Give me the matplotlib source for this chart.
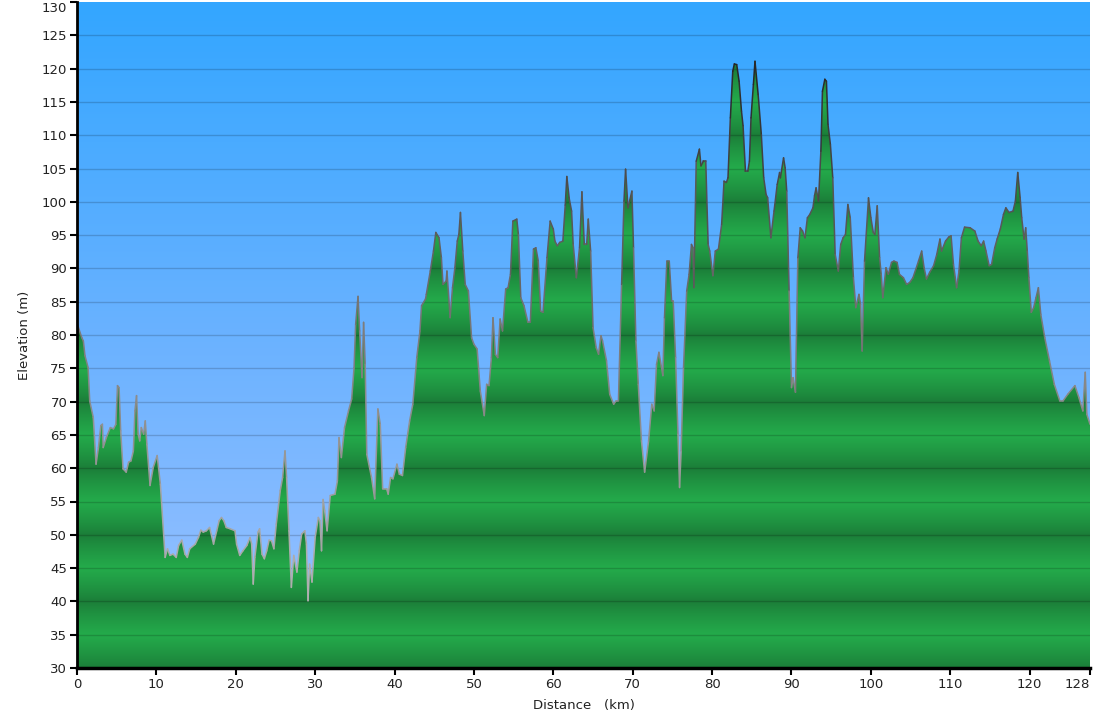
import numpy as np
import matplotlib
matplotlib.use('Agg')
import matplotlib.pyplot as plt
from matplotlib.collections import LineCollection
from matplotlib.colors import LinearSegmentedColormap, to_rgb
from matplotlib.patches import Polygon

distance_km = [
    0.0, 0.05, 0.6, 0.8, 1.0, 1.4, 1.6, 2.05, 2.4, 2.7, 3.0, 3.2, 3.3, 3.7, 4.2, 4.6, 4.9,
    5.1, 5.3, 5.5, 5.8, 6.2, 6.5, 6.8, 7.1, 7.3, 7.5, 7.7, 7.9, 8.1, 8.4, 8.6, 8.8,
    9.2, 9.6, 10.1, 10.5, 11.1, 11.4, 11.7, 12.1, 12.5, 12.8, 13.2, 13.6, 13.9, 14.2,
    14.9, 15.3, 15.6, 15.9, 16.3, 16.7, 17.2, 17.6, 17.9, 18.2, 18.5, 18.8, 19.3, 19.9,
    20.1, 20.5, 20.9, 21.4, 21.8, 22.0, 22.2, 22.4, 22.8, 23.0, 23.3, 23.6, 23.9, 24.2,
    24.5, 24.8, 25.1, 25.6, 25.9, 26.2, 26.4, 26.7, 27.0, 27.3, 27.7, 28.0, 28.3, 28.7,
    28.9, 29.1, 29.3, 29.6, 30.0, 30.4, 30.6, 30.8, 31.0, 31.2, 31.5, 31.9, 32.5, 32.8,
    33.0, 33.3, 33.7, 34.2, 34.6, 34.9, 35.1, 35.4, 35.6, 35.9, 36.1, 36.3, 36.5, 37.1,
    37.5, 37.9, 38.2, 38.5, 39.0, 39.2, 39.5, 39.8, 40.3, 40.6, 41.0, 41.4, 41.9, 42.3,
    42.8, 43.2, 43.4, 43.9, 44.0, 44.5, 44.9, 45.2, 45.6, 45.9, 46.1, 46.5, 46.6, 47.0,
    47.3, 47.6, 47.9, 48.1, 48.3, 48.6, 48.9, 49.3, 49.7, 50.0, 50.4, 50.8, 51.3, 51.6,
    51.9, 52.2, 52.4, 52.7, 53.0, 53.3, 53.6, 54.0, 54.3, 54.6, 54.9, 55.4, 55.6, 55.9,
    56.3, 56.8, 57.1, 57.5, 57.8, 58.1, 58.4, 58.7, 59.2, 59.6, 60.0, 60.2, 60.5, 60.8,
    61.2, 61.5, 61.7, 62.0, 62.3, 62.5, 62.9, 63.3, 63.6, 63.9, 64.2, 64.4, 64.7, 65.0,
    65.4, 65.7, 66.0, 66.2, 66.7, 67.1, 67.6, 67.9, 68.2, 68.6, 68.9, 69.1, 69.4, 69.6,
    69.9, 70.1, 70.4, 70.7, 71.1, 71.5, 72.0, 72.4, 72.7, 73.0, 73.3, 73.8, 74.0, 74.3,
    74.6, 74.9, 75.1, 75.4, 75.7, 75.9, 76.1, 76.4, 76.8, 77.1, 77.4, 77.6, 77.7, 78.0,
    78.4, 78.6, 78.9, 79.2, 79.5, 79.7, 80.1, 80.4, 80.8, 81.2, 81.5, 81.8, 82.0, 82.3,
    82.6, 82.8, 83.1, 83.4, 83.7, 83.9, 84.2, 84.5, 84.7, 84.9, 85.2, 85.4, 85.8, 86.2,
    86.5, 86.8, 87.0, 87.4, 87.8, 88.2, 88.5, 88.6, 89.0, 89.2, 89.4, 89.7, 90.0, 90.2,
    90.5, 90.8, 91.1, 91.4, 91.7, 92.0, 92.3, 92.7, 92.9, 93.1, 93.4, 93.7, 93.9, 94.2,
    94.4, 94.6, 94.9, 95.2, 95.5, 95.9, 96.2, 96.5, 96.8, 97.1, 97.4, 97.8, 98.1, 98.5,
    98.7, 98.9, 99.2, 99.7, 100.0, 100.3, 100.5, 100.8, 101.1, 101.3, 101.5, 101.9,
    102.2, 102.6, 102.9, 103.3, 103.6, 104.1, 104.5, 104.9, 105.3, 106.0, 106.4, 106.7,
    107.0, 107.4, 107.9, 108.3, 108.7, 108.9, 109.4, 109.8, 110.1, 110.4, 110.8, 111.1,
    111.4, 111.8, 112.5, 113.1, 113.5, 113.9, 114.2, 114.5, 114.9, 115.2, 115.6, 115.9,
    116.3, 116.7, 117.0, 117.4, 117.9, 118.2, 118.5, 118.8, 119.0, 119.3, 119.5, 119.7,
    119.9, 120.2, 120.5, 120.8, 121.1, 121.4, 121.9, 122.5, 123.1, 123.8, 124.2, 124.8,
    125.7, 126.2, 126.7, 127.0, 127.2, 127.6,
]
elevation_m = [
    81.9, 81.6, 79.6, 79.1, 76.9, 75.1, 70.1, 67.6, 60.6, 63.1, 66.4, 66.6, 63.1, 64.6, 66.1, 65.9, 66.6,
    72.4, 72.1, 65.6, 59.9, 59.4, 60.9, 61.1, 62.6, 68.6, 70.9, 65.1, 64.1, 66.1, 65.1, 67.1, 63.6,
    57.4, 60.1, 61.9, 57.6, 46.6, 47.9, 46.9, 47.1, 46.6, 48.4, 49.2, 47.1, 46.6, 47.9,
    48.6, 49.6, 50.7, 50.4, 50.6, 51.1, 48.6, 50.6, 52.1, 52.6, 52.1, 51.1, 50.9, 50.6,
    48.6, 46.9, 47.6, 48.4, 49.6, 48.6, 42.6, 46.6, 50.4, 50.9, 47.1, 46.4, 47.6, 49.2,
    49.1, 47.9, 51.6, 56.6, 58.6, 62.6, 58.6, 50.6, 42.1, 46.9, 44.4, 47.6, 50.1, 50.6,
    48.6, 40.1, 45.6, 42.9, 49.6, 52.6, 52.1, 47.6, 55.3, 53.6, 50.6, 55.9, 56.1, 58.1,
    64.6, 61.6, 66.1, 68.6, 70.4, 75.1, 81.6, 85.8, 80.6, 73.6, 81.9, 75.6, 62.1, 58.6,
    55.4, 68.9, 66.6, 56.9, 56.9, 56.1, 58.6, 58.4, 60.6, 59.1, 58.9, 63.1, 67.1, 69.6,
    76.6, 80.6, 84.4, 85.4, 86.1, 89.6, 92.6, 95.4, 94.6, 91.6, 87.6, 88.1, 89.6, 82.6,
    87.1, 90.1, 94.1, 95.1, 98.4, 92.6, 87.6, 86.6, 79.6, 78.6, 77.9, 71.6, 67.9, 72.6,
    72.4, 76.6, 82.6, 77.1, 76.6, 82.4, 80.6, 86.9, 87.1, 89.1, 97.1, 97.4, 95.1, 85.6,
    84.4, 81.9, 81.9, 92.9, 93.1, 91.1, 83.6, 83.4, 91.6, 97.1, 95.9, 94.1, 93.4, 93.9,
    94.1, 99.5, 103.8, 100.5, 98.6, 93.6, 88.6, 93.1, 101.5, 93.6, 93.6, 97.4, 92.6, 81.1,
    78.1, 77.1, 79.9, 79.1, 76.1, 71.1, 69.6, 70.1, 70.1, 87.6, 100.1, 104.9, 99.1, 100.1,
    101.6, 93.1, 79.1, 72.6, 64.1, 59.4, 64.1, 69.6, 68.6, 75.6, 77.4, 73.9, 82.6, 91.1,
    91.1, 85.1, 85.1, 76.6, 65.1, 57.1, 62.6, 75.1, 86.6, 89.1, 93.6, 93.1, 87.1, 106.1,
    107.9, 105.4, 106.1, 106.1, 93.6, 92.6, 88.9, 92.6, 92.9, 96.6, 103.1, 102.9, 103.6, 112.6,
    119.6, 120.7, 120.6, 118.1, 113.6, 111.4, 104.6, 104.6, 106.1, 112.6, 117.6, 121.1, 116.1, 110.1,
    103.6, 101.1, 100.6, 94.6, 98.6, 102.6, 104.4, 103.6, 106.6, 105.1, 101.6, 86.6, 72.1, 73.6,
    71.4, 91.6, 96.1, 95.6, 94.6, 97.6, 98.1, 99.1, 100.9, 102.1, 100.1, 107.6, 116.6, 118.4,
    118.1, 111.6, 108.6, 103.6, 92.1, 89.6, 93.6, 94.6, 95.1, 99.6, 97.6, 88.6, 84.1, 86.1,
    84.6, 77.6, 91.1, 100.6, 97.6, 95.4, 95.1, 99.4, 91.6, 89.1, 85.6, 90.1,
    89.1, 90.9, 91.1, 90.9, 89.1, 88.6, 87.6, 87.9, 88.6, 91.1, 92.6, 90.1,
    88.4, 89.4, 90.4, 92.1, 94.4, 92.6, 94.1, 94.7, 94.9, 90.6, 87.1, 89.6,
    94.6, 96.2, 96.1, 95.6, 94.1, 93.4, 94.1, 92.6, 90.4, 90.6, 93.1, 94.4,
    95.9, 98.1, 99.1, 98.4, 98.6, 100.1, 104.4, 100.6, 97.6, 94.4, 96.1, 92.6,
    88.6, 83.4, 84.1, 85.6, 87.1, 83.1, 79.6, 76.1, 72.6, 70.1, 70.1, 71.1,
    72.4, 70.6, 68.6, 74.4, 68.1, 66.6,
]

x_max = 127.6
y_ticks = list(range(30, 131, 5))
x_ticks = [0, 10, 20, 30, 40, 50, 60, 70, 80, 90, 100, 110, 120, x_max]
x_tick_labels = ['0', '10', '20', '30', '40', '50', '60', '70', '80', '90', '100', '110', '120', '128']

fig = plt.figure(figsize=(10.94, 7.22), dpi=100)
ax = fig.add_axes([77 / 1094, 54 / 722, 1013 / 1094, 666 / 722])
ax.set_xlim(0, x_max)
ax.set_ylim(30, 130)

# sky gradient
sky = LinearSegmentedColormap.from_list('sky', ['#9cc2ff', '#6ab2ff', '#33a6ff'])
grad = np.linspace(0, 1, 256).reshape(-1, 1)
ax.imshow(grad, cmap=sky, origin='lower', extent=[0, x_max, 30, 130],
          aspect='auto', zorder=0, interpolation='bilinear')

# banded green fill (dark at multiples of 10, light at odd fives)
yy = np.linspace(30, 130, 4000)
phase = (yy % 10) / 10.0
b = 1 - np.abs(2 * phase - 1)
b = b ** 0.8
dark = np.array(to_rgb('#1b7c38'))
light = np.array(to_rgb('#24ab4b'))
cols = dark[None, :] * (1 - b[:, None]) + light[None, :] * b[:, None]
img = ax.imshow(cols[:, None, :], origin='lower', extent=[0, x_max, 30, 130],
                aspect='auto', zorder=1, interpolation='bilinear')
verts = [(distance_km[0], 30)] + list(zip(distance_km, elevation_m)) + [(distance_km[-1], 30)]
patch = Polygon(verts, closed=True, facecolor='none', edgecolor='none', transform=ax.transData)
ax.add_patch(patch)
img.set_clip_path(patch)

# gridlines
for yv in y_ticks[1:-1]:
    ax.axhline(yv, color='black', alpha=0.17, lw=1.0, zorder=2)

# outline with height-dependent grey
pts = np.column_stack([distance_km, elevation_m])
segs = np.stack([pts[:-1], pts[1:]], axis=1)
mid = (pts[:-1, 1] + pts[1:, 1]) / 2
edge_cmap = LinearSegmentedColormap.from_list('edge', ['#b4b4b4', '#7a7a7a', '#222222'])
norm = plt.Normalize(40, 122)
lc = LineCollection(segs, colors=edge_cmap(norm(mid)), linewidths=1.1, zorder=3,
                    capstyle='round', joinstyle='round')
ax.add_collection(lc)

# axes styling
for s in ['top', 'right']:
    ax.spines[s].set_visible(False)
ax.spines['left'].set_linewidth(2)
ax.spines['bottom'].set_linewidth(2.5)
ax.spines['left'].set_zorder(5)
ax.spines['bottom'].set_zorder(5)
ax.set_yticks(y_ticks)
ax.set_xticks(x_ticks)
ax.set_xticklabels(x_tick_labels)
ax.tick_params(direction='out', length=5, width=1.5, labelsize=9.5, colors='black',
               labelcolor='#222222', pad=2)
ax.get_xticklabels()[-1].set_horizontalalignment('right')
ax.get_yticklabels()[-1].set_verticalalignment('top')
ax.set_xlabel('Distance   (km)', fontsize=9.5, color='#222222', labelpad=6)
ax.set_ylabel('Elevation (m)', fontsize=9.5, color='#222222', labelpad=8)

fig.savefig('out.png', dpi=100)
